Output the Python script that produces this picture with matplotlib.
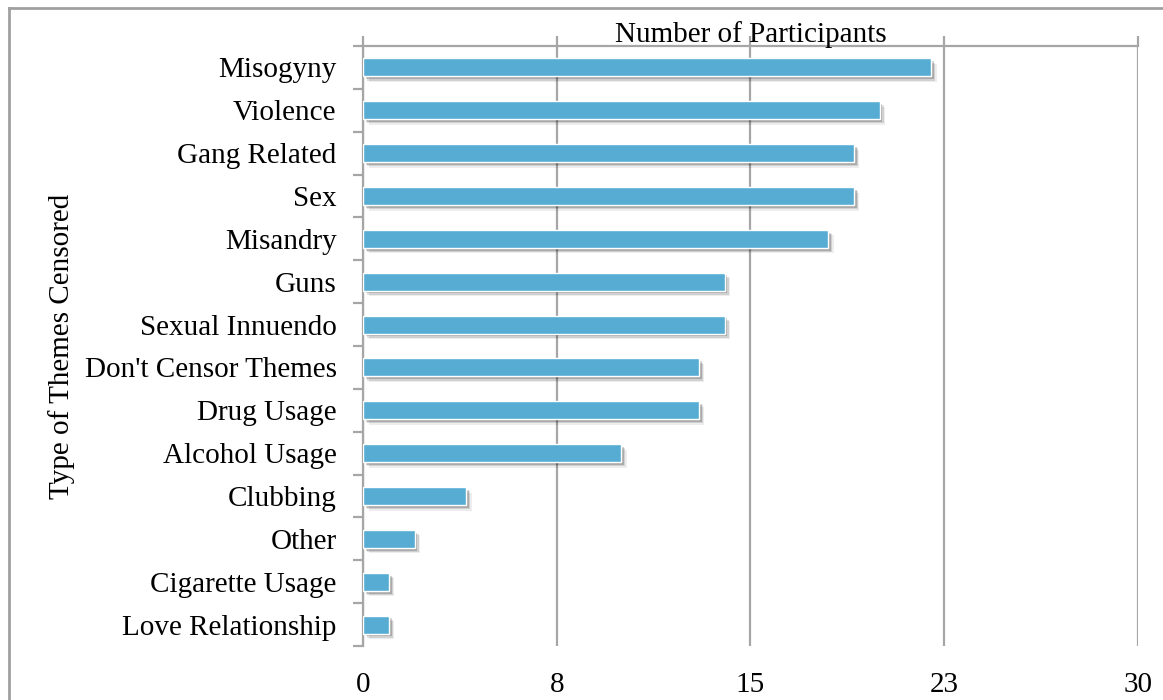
import matplotlib.pyplot as plt
import matplotlib.patheffects as pe
from matplotlib.lines import Line2D

plt.rcParams['font.family'] = ['Liberation Serif', 'DejaVu Serif']

themes = ["Misogyny", "Violence", "Gang Related", "Sex", "Misandry", "Guns",
          "Sexual Innuendo", "Don't Censor Themes", "Drug Usage", "Alcohol Usage",
          "Clubbing", "Other", "Cigarette Usage", "Love Relationship"]
participants = [22, 20, 19, 19, 18, 14, 14, 13, 13, 10, 4, 2, 1, 1]

xticks = [0, 7.5, 15, 22.5, 30]
xtick_labels = ["0", "8", "15", "23", "30"]

grey = "#a6a6a6"
bar_color = "#57acd4"
fs = 21

fig = plt.figure(figsize=(11.63, 7.0), dpi=100)
ax = fig.add_axes([0.3121, 0.0771, 0.6664, 0.8572])

# soft drop shadow under each bar
shadow = [pe.SimplePatchShadow(offset=(o, -o), shadow_rgbFace="#000000", alpha=a)
          for o, a in [(4, 0.07), (3, 0.12), (2, 0.18)]]
ypos = list(range(len(themes)))
ax.barh(ypos, participants, height=0.42, color=bar_color, edgecolor="white",
        linewidth=1.0, zorder=3, path_effects=shadow + [pe.Normal()])

ax.set_xlim(0, 30)
ax.set_ylim(len(themes) - 0.5, -0.5)

ax.set_xticks(xticks)
ax.set_xticklabels(xtick_labels)
ax.grid(axis="x", color=grey, linewidth=1.6, zorder=0)
ax.tick_params(axis="x", bottom=False, top=True, labelbottom=True, labeltop=False,
               direction="out", length=7, width=1.6, color=grey, pad=12, labelsize=fs)

ax.set_yticks(ypos)
ax.set_yticklabels(themes)
ax.set_yticks([k - 0.5 for k in range(len(themes) + 1)], minor=True)
ax.tick_params(axis="y", which="major", length=0, pad=19, labelsize=fs)
ax.tick_params(axis="y", which="minor", direction="out", length=7.5, width=1.6, color=grey)

for side in ["bottom", "right"]:
    ax.spines[side].set_visible(False)
for side in ["top", "left"]:
    ax.spines[side].set_color(grey)
    ax.spines[side].set_linewidth(1.6)

ax.set_title("Number of Participants", fontsize=fs, pad=3)
ax.set_ylabel("Type of Themes Censored", fontsize=fs)
ax.yaxis.set_label_coords(-0.372, 0.5)

# outer chart frame (cropped at right and bottom)
fig.add_artist(Line2D([0.008, 0.008], [0, 0.989], color="#a0a0a0", linewidth=2))
fig.add_artist(Line2D([0.008, 1.0], [0.989, 0.989], color="#a0a0a0", linewidth=2))

fig.savefig("out.png", dpi=100)
